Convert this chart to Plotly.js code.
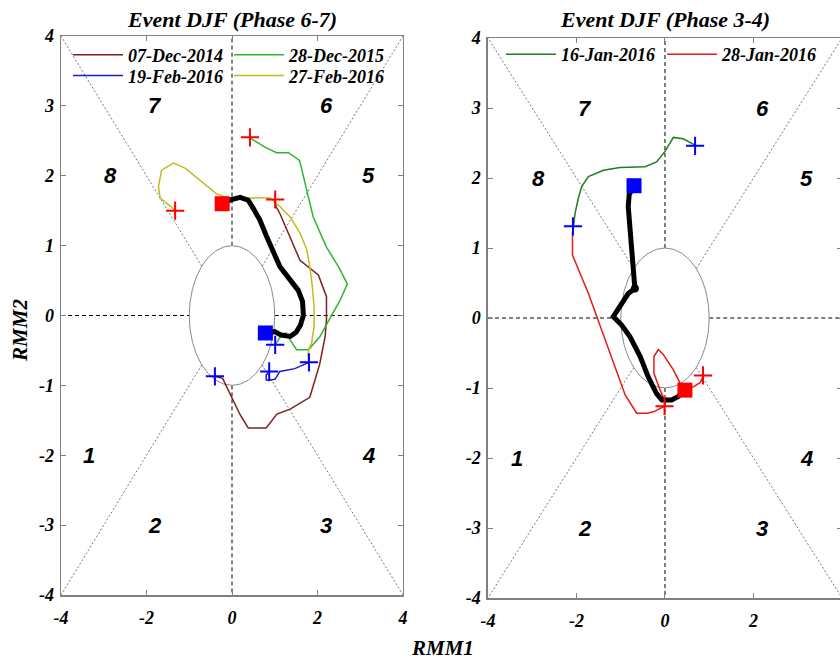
<!DOCTYPE html>
<html><head><meta charset="utf-8">
<script src="https://cdn.plot.ly/plotly-3.0.1.min.js"></script>
<style>html,body{margin:0;padding:0;overflow:hidden;background:#fff}#chart{width:844px;height:661px}</style>
</head><body><div id="chart"></div>
<script>
// ---------- Left panel: Event DJF (Phase 6-7) ----------
var dec2014X = [1.01,1.03,1.12,1.36,1.59,2.02,2.21,2.21,2.18,2.05,1.82,1.36,1.05,0.80,0.38,0.19,0.03,-0.22,-0.40];
var dec2014Y = [1.66,1.56,1.46,1.13,0.79,0.58,0.27,-0.06,-0.30,-0.70,-1.17,-1.34,-1.41,-1.61,-1.61,-1.42,-1.21,-0.90,-0.87];
var dec2015X = [0.42,0.50,0.77,1.04,1.32,1.58,1.67,1.79,1.90,2.21,2.49,2.70,2.53,2.31,2.06,1.79,1.51,1.36,1.26,1.16,1.01];
var dec2015Y = [2.54,2.51,2.41,2.33,2.33,2.22,1.99,1.70,1.41,0.98,0.70,0.45,0.22,-0.02,-0.30,-0.49,-0.49,-0.35,-0.25,-0.28,-0.42];
var feb2016aX = [1.80,1.47,1.12,1.01,0.87,0.80,0.80,0.89];
var feb2016aY = [-0.67,-0.76,-0.80,-0.91,-0.93,-0.92,-0.85,-0.80];
var feb2016bX = [-1.33,-1.45,-1.68,-1.72,-1.65,-1.37,-1.10,-0.90,-0.63,-0.36,-0.12,0.42,0.89,1.12,1.36,1.59,1.75,1.82,1.88,1.92,1.92,1.86,1.79,1.78,1.80];
var feb2016bY = [1.50,1.57,1.68,1.84,2.08,2.18,2.11,2.01,1.87,1.74,1.69,1.68,1.68,1.56,1.41,1.18,0.94,0.70,0.41,0.13,-0.16,-0.40,-0.49,-0.60,-0.67];
var compLX = [-0.22,-0.05,0.19,0.38,0.50,0.65,0.81,0.97,1.12,1.36,1.55,1.65,1.67,1.60,1.50,1.36,1.15,1.00,0.80];
var compLY = [1.60,1.65,1.69,1.65,1.53,1.37,1.13,0.89,0.70,0.51,0.36,0.20,0.00,-0.14,-0.24,-0.30,-0.28,-0.23,-0.25];
var startSqL = {x:[-0.23], y:[1.60]};
var endSqL = {x:[0.78], y:[-0.25]};
var redPlusLX = [0.42,1.01,-1.33];
var redPlusLY = [2.55,1.66,1.50];
var bluePlusLX = [-0.40,1.01,0.87,1.80];
var bluePlusLY = [-0.87,-0.42,-0.80,-0.67];

// ---------- Right panel: Event DJF (Phase 3-4) ----------
var jan16X = [-2.07,-2.03,-1.96,-1.88,-1.73,-1.39,-1.02,-0.45,-0.19,0.00,0.19,0.41,0.68];
var jan16Y = [1.30,1.50,1.71,1.88,2.02,2.11,2.15,2.16,2.23,2.38,2.58,2.56,2.47];
var jan28X = [0.88,0.80,0.65,0.45,0.38,0.19,-0.04,-0.15,-0.25,-0.25,-0.11,0.00,-0.01,-0.26,-0.40,-0.64,-0.90,-1.13,-1.36,-1.54,-1.73,-1.92,-2.09,-2.09,-2.07];
var jan28Y = [-0.80,-0.92,-0.98,-1.03,-0.98,-0.74,-0.52,-0.45,-0.55,-0.79,-1.03,-1.18,-1.26,-1.34,-1.36,-1.36,-1.10,-0.70,-0.31,0.02,0.35,0.64,0.90,1.21,1.30];
var compRX = [-0.70,-0.81,-0.83,-0.79,-0.74,-0.70,-0.68,-0.83,-0.98,-1.17,-0.98,-0.79,-0.56,-0.38,-0.19,-0.07,0.15,0.30,0.45];
var compRY = [1.90,1.76,1.59,1.30,1.02,0.73,0.42,0.35,0.21,0.02,-0.10,-0.27,-0.55,-0.84,-1.08,-1.17,-1.17,-1.12,-1.03];
var startSqR = {x:[-0.70], y:[1.89]};
var endSqR = {x:[0.45], y:[-1.03]};
var dotR = {x:[-0.68], y:[0.42]};
var bluePlusRX = [0.68,-2.08];
var bluePlusRY = [2.46,1.31];
var redPlusRX = [0.86,-0.01];
var redPlusRY = [-0.82,-1.26];

// ---------- Labels ----------
var phaseLabels = ['1','2','3','4','5','6','7','8'];
var phaseX = [-3.35,-1.8,2.2,3.2,3.2,2.2,-1.8,-2.85];
var phaseY = [-2,-3,-3,-2,2,3,3,2];
var xTicks = [-4,-2,0,2,4];
var yTicks = [-4,-3,-2,-1,0,1,2,3,4];
var titles = ['Event DJF (Phase 6-7)','Event DJF (Phase 3-4)'];

var serifB = {family:'Liberation Serif, Times New Roman, serif', weight:'bold', style:'italic', color:'#000'};
function f(base, size){ var o = {}; for (var k in base) o[k]=base[k]; o.size=size; return o; }

function line(x,y,color,name,xa,ya,leg,w){
  return {x:x,y:y,type:'scatter',mode:'lines',line:{color:color,width:w||1.5},name:name,
          xaxis:xa,yaxis:ya,legend:leg,showlegend:!!leg,hoverinfo:'skip'};
}
function marks(x,y,sym,color,size,xa,ya){
  var m = {symbol:sym,size:size,color:color};
  if (sym.indexOf('thin')>=0) m.line = {color:color,width:2};
  return {x:x,y:y,type:'scatter',mode:'markers',marker:m,xaxis:xa,yaxis:ya,showlegend:false,hoverinfo:'skip'};
}

var traces = [
  line(dec2014X,dec2014Y,'#7f1f1f','07-Dec-2014','x','y','legend'),
  line(dec2015X,dec2015Y,'#2db82d','28-Dec-2015','x','y','legend'),
  line(feb2016aX,feb2016aY,'#1c1cc8','19-Feb-2016','x','y','legend2'),
  line(feb2016bX,feb2016bY,'#c3bb1e','27-Feb-2016','x','y','legend2'),
  line(compLX,compLY,'#000000','','x','y',null,5),
  marks(startSqL.x,startSqL.y,'square','#ff0000',15,'x','y'),
  marks(endSqL.x,endSqL.y,'square','#0000ff',15,'x','y'),
  marks(redPlusLX,redPlusLY,'cross-thin','#ff0000',13,'x','y'),
  marks(bluePlusLX,bluePlusLY,'cross-thin','#0000ff',13,'x','y'),

  line(jan16X,jan16Y,'#1e7d1e','16-Jan-2016','x2','y2','legend3'),
  line(jan28X,jan28Y,'#e41a1a','28-Jan-2016','x2','y2','legend3'),
  line(compRX,compRY,'#000000','','x2','y2',null,5),
  marks(dotR.x,dotR.y,'circle','#000000',8,'x2','y2'),
  marks(startSqR.x,startSqR.y,'square','#0000ff',15,'x2','y2'),
  marks(endSqR.x,endSqR.y,'square','#ff0000',15,'x2','y2'),
  marks(bluePlusRX,bluePlusRY,'cross-thin','#0000ff',13,'x2','y2'),
  marks(redPlusRX,redPlusRY,'cross-thin','#ff0000',13,'x2','y2')
];

function guides(xr,yr){
  var c = Math.SQRT1_2, s = [];
  var blk = {color:'#000',width:1,dash:'4px,3px'};
  var gry = {color:'#777',width:1,dash:'2px,2px'};
  s.push({type:'line',xref:xr,yref:yr,x0:0,y0:1,x1:0,y1:4,line:blk,layer:'below'});
  s.push({type:'line',xref:xr,yref:yr,x0:0,y0:-1,x1:0,y1:-4,line:blk,layer:'below'});
  s.push({type:'line',xref:xr,yref:yr,x0:-4,y0:0,x1:-1,y1:0,line:blk,layer:'below'});
  s.push({type:'line',xref:xr,yref:yr,x0:1,y0:0,x1:4,y1:0,line:blk,layer:'below'});
  [[1,1],[1,-1],[-1,1],[-1,-1]].forEach(function(d){
    s.push({type:'line',xref:xr,yref:yr,x0:d[0]*c,y0:d[1]*c,x1:d[0]*4,y1:d[1]*4,line:gry,layer:'below'});
  });
  s.push({type:'circle',xref:xr,yref:yr,x0:-1,x1:1,y0:-1,y1:1,line:{color:'#8a8a8a',width:1},layer:'below'});
  return s;
}

var annotations = [];
[['x','y'],['x2','y2']].forEach(function(ax,i){
  phaseLabels.forEach(function(t,j){
    annotations.push({xref:ax[0],yref:ax[1],x:phaseX[j],y:phaseY[j],text:t,showarrow:false,
      font:{family:'Liberation Sans, Arial, sans-serif',size:22,weight:'bold',style:'italic',color:'#000'}});
  });
  annotations.push({xref:ax[0],yref:'paper',x:0,y:1.0302,xanchor:'center',yanchor:'middle',text:titles[i],showarrow:false,font:f(serifB,22)});
});
annotations.push({xref:'paper',yref:'paper',x:-0.0525,y:0.477,xanchor:'center',yanchor:'middle',text:'RMM2',textangle:-90,showarrow:false,font:f(serifB,21)});
annotations.push({xref:'paper',yref:'paper',x:0.489,y:-0.089,xanchor:'center',yanchor:'middle',text:'RMM1',showarrow:false,font:f(serifB,21)});

function xax(dom){
  return {domain:dom,range:[-4,4],tickvals:xTicks,ticktext:xTicks.map(String),ticks:'inside',ticklen:5,tickcolor:'#808080',
    showline:true,linecolor:'#808080',linewidth:1.5,mirror:'ticks',showgrid:false,zeroline:false,automargin:false,
    ticklabelstandoff:6,tickfont:f(serifB,18),fixedrange:true};
}
function yax(dom,anchor){
  return {domain:dom,anchor:anchor,range:[-4,4],tickvals:yTicks,ticktext:yTicks.map(String),ticks:'inside',ticklen:5,tickcolor:'#808080',
    showline:true,linecolor:'#808080',linewidth:1.5,mirror:'ticks',showgrid:false,zeroline:false,automargin:false,
    ticklabelstandoff:2,tickfont:f(serifB,18),fixedrange:true};
}
var legBase = {orientation:'h',entrywidth:96,entrywidthmode:'pixels',bgcolor:'rgba(0,0,0,0)',font:f(serifB,18),
  xanchor:'left',yanchor:'middle',itemwidth:50,traceorder:'normal'};
function leg(x,y){ var o={}; for (var k in legBase) o[k]=legBase[k]; o.x=x; o.y=y; return o; }

var layout = {
  width:844,height:661,margin:{l:61,r:2,t:36,b:63,autoexpand:false},
  paper_bgcolor:'#fff',plot_bgcolor:'#fff',
  xaxis:xax([0,0.4379]),
  yaxis:yax([0.0053,1],'x'),
  xaxis2:(function(){var a=xax([0.5467,1]);a.anchor='y2';return a;})(),
  yaxis2:yax([0,0.9964],'x2'),
  legend:leg(0.009,0.966),
  legend2:leg(0.009,0.929),
  legend3:leg(0.5634,0.967),
  shapes:guides('x','y').concat(guides('x2','y2')),
  annotations:annotations
};
Plotly.newPlot('chart',traces,layout,{displayModeBar:false,staticPlot:true});
</script></body></html>
